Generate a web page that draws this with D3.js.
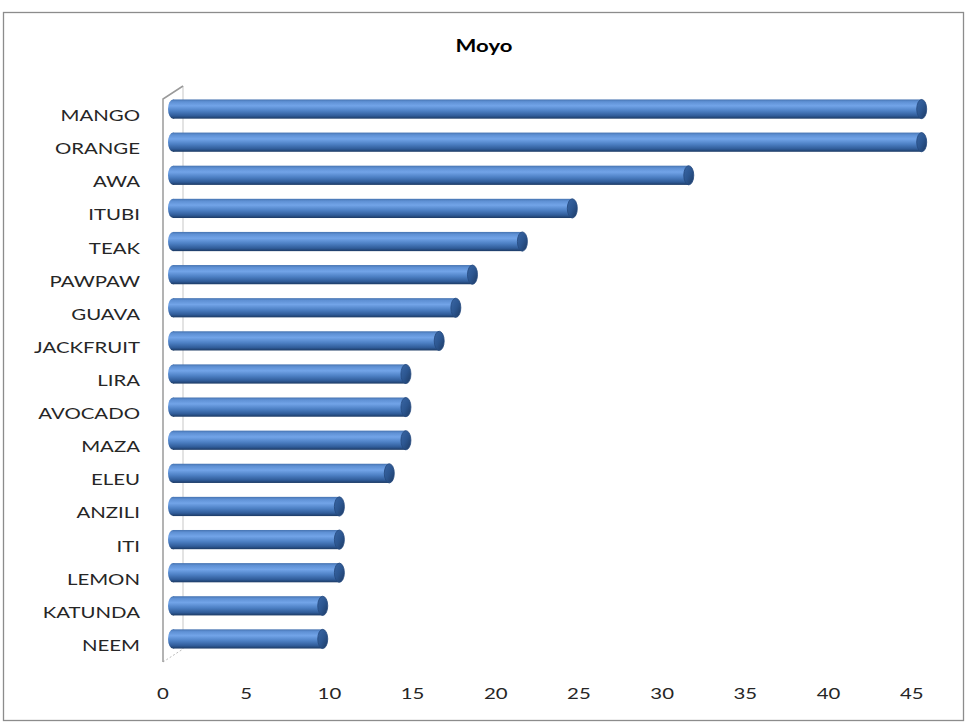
<!DOCTYPE html>
<html><head><meta charset="utf-8">
<script src="https://cdn.jsdelivr.net/npm/d3@7/dist/d3.min.js"></script>
<style>body{margin:0;background:#fff}svg{display:block}</style>
</head><body>
<script>
const title = "Moyo";
const categories = ["MANGO","ORANGE","AWA","ITUBI","TEAK","PAWPAW","GUAVA","JACKFRUIT","LIRA","AVOCADO","MAZA","ELEU","ANZILI","ITI","LEMON","KATUNDA","NEEM"];
const values = [45,45,31,24,21,18,17,16,14,14,14,13,10,10,10,9,9];
const xTicks = [0,5,10,15,20,25,30,35,40,45];

const W = 967, H = 723;
const SX = 1.36; // horizontal text stretch
const depth = {dx: 20, dy: -13};
const svg = d3.select("body").append("svg").attr("width", W).attr("height", H);

const defs = svg.append("defs");
const g1 = defs.append("linearGradient").attr("id","cyl").attr("x1",0).attr("y1",0).attr("x2",0).attr("y2",1);
[[0,"#4673b0"],[0.12,"#5e90d4"],[0.33,"#72a4e8"],[0.6,"#4d80c4"],[0.85,"#305c99"],[1,"#1c3a64"]]
  .forEach(([o,c])=>g1.append("stop").attr("offset",o).attr("stop-color",c));
const g2 = defs.append("linearGradient").attr("id","cap").attr("x1",0).attr("y1",0).attr("x2",1).attr("y2",1);
[[0,"#3a67a5"],[0.5,"#2c5690"],[1,"#1d3a63"]]
  .forEach(([o,c])=>g2.append("stop").attr("offset",o).attr("stop-color",c));

// outer border
svg.append("rect").attr("x",3.5).attr("y",12.5).attr("width",960).attr("height",708)
  .attr("fill","none").attr("stroke","#8c8c8c").attr("stroke-width",1.3);

// title
svg.append("g").attr("transform",`translate(484,52) scale(1.3,1)`)
  .append("text").attr("text-anchor","middle").attr("font-family","Lato, sans-serif")
  .attr("font-weight","bold").attr("font-size",17).attr("fill","#000").text(title);

const x = d3.scaleLinear().domain([0,45]).range([163,911.7]);
const y = d3.scaleBand().domain(categories).range([99,662]).paddingInner(0.42).paddingOuter(0.21);
const yc = d3.scaleBand().domain(categories).range([99,662]);

// left wall
const x0 = x(0), yTop = 99, yBot = 662;
svg.append("line").attr("x1",x0+depth.dx).attr("y1",yTop+depth.dy).attr("x2",x0+depth.dx).attr("y2",yBot+depth.dy)
  .attr("stroke","#d0d0d0").attr("stroke-width",1.2);
svg.append("line").attr("x1",x0).attr("y1",yBot).attr("x2",x0+depth.dx).attr("y2",yBot+depth.dy)
  .attr("stroke","#bdbdbd").attr("stroke-width",1).attr("stroke-dasharray","2,2");
svg.append("path").attr("d",`M${x0},${yBot}L${x0},${yTop}L${x0+depth.dx},${yTop+depth.dy}`)
  .attr("fill","none").attr("stroke","#9a9a9a").attr("stroke-width",1.5);

// bars (mid-depth)
const mx = depth.dx/2, my = depth.dy/2;
const bars = svg.append("g");
categories.forEach((c,i)=>{
  const bh = y.bandwidth();
  const by = y(c) + my;
  const xs = x(0) + mx, xe = x(values[i]) + mx;
  const rx = 5;
  const g = bars.append("g");
  g.append("ellipse").attr("cx",xs).attr("cy",by+bh/2).attr("rx",rx).attr("ry",bh/2).attr("fill","url(#cyl)");
  g.append("rect").attr("x",xs).attr("y",by).attr("width",xe-xs).attr("height",bh).attr("fill","url(#cyl)");
  g.append("ellipse").attr("cx",xe).attr("cy",by+bh/2).attr("rx",rx).attr("ry",bh/2).attr("fill","url(#cap)")
    .attr("stroke","#24497e").attr("stroke-width",0.8);
});

// category labels
const lab = svg.append("g");
categories.forEach(c=>{
  lab.append("g").attr("transform",`translate(140,${yc(c)+yc.bandwidth()/2+5.5}) scale(${SX},1)`)
    .append("text").attr("text-anchor","end").attr("font-family","Lato, sans-serif")
    .attr("font-size",15).attr("fill","#262626").text(c);
});

// x tick labels
const tk = svg.append("g");
xTicks.forEach(t=>{
  tk.append("g").attr("transform",`translate(${x(t)},698.5) scale(${SX},1)`)
    .append("text").attr("text-anchor","middle").attr("font-family","Lato, sans-serif")
    .attr("font-size",15).attr("fill","#262626").text(t);
});
</script>
</body></html>
